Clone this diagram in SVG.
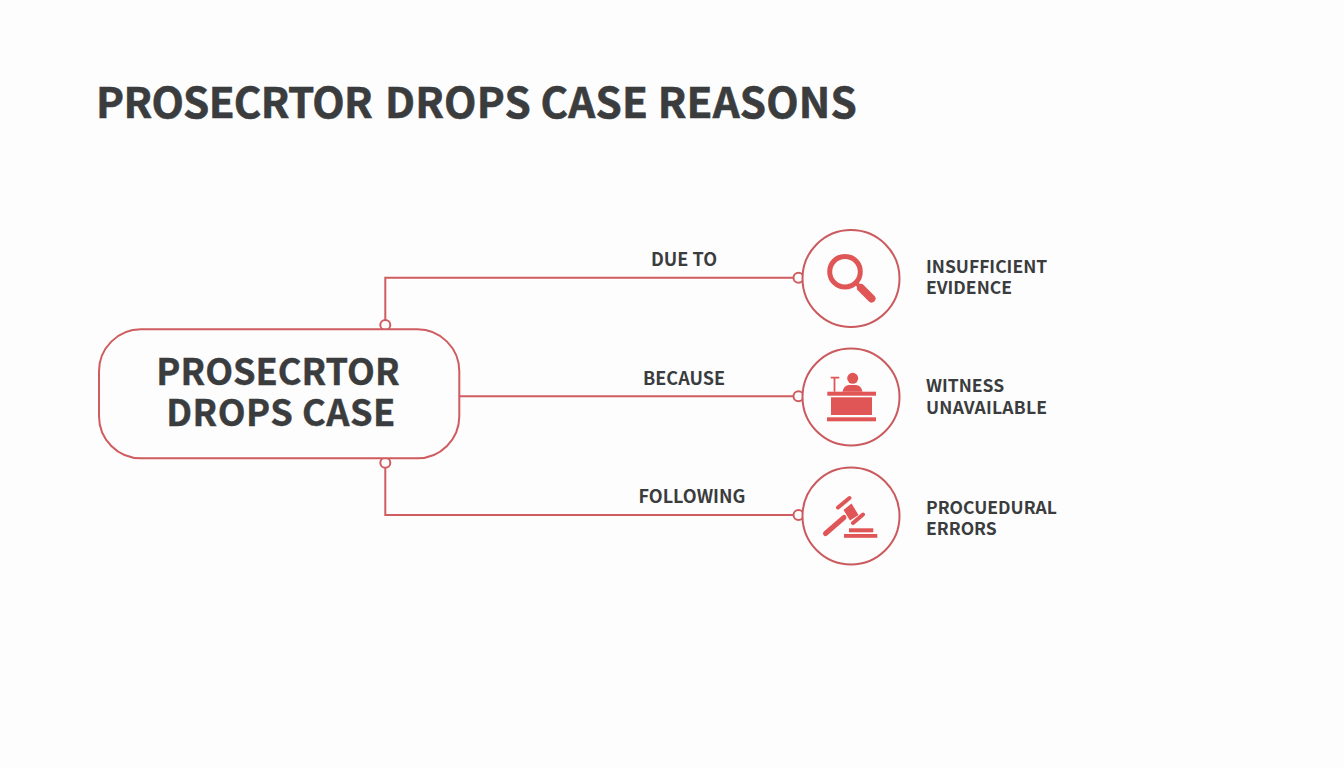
<svg xmlns="http://www.w3.org/2000/svg" width="1344" height="768" viewBox="0 0 1344 768">
<style>
text{font-family:"Noto Sans CJK SC","Noto Sans","Liberation Sans",sans-serif;fill:#3a3c3d}
.t{font-size:42.100px;font-weight:700;stroke:#3a3c3d;stroke-width:.6px}
.m{font-size:36.200px;font-weight:700;text-anchor:middle;stroke:#3a3c3d;stroke-width:.4px}
.l{font-size:18px;font-weight:700;text-anchor:middle}
.s{font-size:17.500px;font-weight:700}
.ln{fill:none;stroke:#cf5c5f;stroke-width:2}
.dot{fill:#fdfdfd;stroke:#cf5c5f;stroke-width:2}
.ic{fill:#e05555}
.ring{fill:#fdfdfd;stroke:#cb5a5e;stroke-width:2}
</style>
<rect width="1344" height="768" fill="#fdfdfd"/>
<text id="title" class="t" x="96" y="118"><tspan letter-spacing="-0.7">PROSECRTOR</tspan> <tspan x="385" letter-spacing="0.17">DROPS CASE REASONS</tspan></text>
<g id="connectors">
<path class="ln" d="M385.300 325V277.800H798"/>
<path class="ln" d="M459 396.300H798"/>
<path class="ln" d="M385.300 463V515H798"/>
<circle class="dot" cx="385.300" cy="325" r="5"/>
<circle class="dot" cx="385.300" cy="462.700" r="5"/>
<circle class="dot" cx="798.500" cy="277.800" r="5"/>
<circle class="dot" cx="798.500" cy="396.300" r="5"/>
<circle class="dot" cx="798.500" cy="515" r="5"/>
<text class="l" x="684" y="266">DUE TO</text>
<text class="l" x="684" y="385">BECAUSE</text>
<text class="l" x="692" y="503">FOLLOWING</text>
</g>
<g id="main">
<rect x="99" y="329.300" width="360.300" height="129" rx="42" fill="#fdfdfd" stroke="#cf5c5f" stroke-width="2"/>
<text class="m" x="278" y="385">PROSECRTOR</text>
<text class="m" x="281" y="426" letter-spacing="0.5">DROPS CASE</text>
</g>
<g id="evidence">
<circle class="ring" cx="851" cy="278.500" r="48.500"/>
<circle cx="845" cy="271.700" r="15.300" fill="none" stroke="#e05555" stroke-width="5"/>
<path d="M856 283L861 288" stroke="#e05555" stroke-width="4"/>
<path d="M861 288L871.500 298.500" stroke="#e05555" stroke-width="8" stroke-linecap="round"/>
<text class="s" x="926" y="272.500">INSUFFICIENT</text>
<text class="s" x="926" y="294">EVIDENCE</text>
</g>
<g id="witness">
<circle class="ring" cx="851" cy="397" r="48.500"/>
<circle class="ic" cx="852.700" cy="378.300" r="5.500"/>
<path class="ic" d="M842.500 391.700Q844 385 849 385H856Q861 385 862.500 391.700Z"/>
<rect class="ic" x="827.300" y="391.700" width="48.700" height="4"/>
<rect class="ic" x="831" y="397.300" width="41" height="17.700"/>
<rect class="ic" x="827" y="417.300" width="49" height="4"/>
<path d="M830.700 377.700H839.300M834.500 377.700V391.700" stroke="#e05555" stroke-width="1.800" fill="none"/>
<text class="s" x="926" y="392">WITNESS</text>
<text class="s" x="926" y="413.500" letter-spacing="0.25">UNAVAILABLE</text>
</g>
<g id="errors">
<circle class="ring" cx="851" cy="516" r="48.500"/>
<path d="M844 517.500L825.500 533.500" stroke="#e05555" stroke-width="5" stroke-linecap="round"/>
<path class="ic" d="M843.500 510L851.500 503.500L858.500 515L850 520.500Z"/>
<path d="M838 507.500L849.500 498M853 523L863 514.500" stroke="#e05555" stroke-width="4" stroke-linecap="round"/>
<rect class="ic" x="849" y="528.300" width="24.300" height="4"/>
<rect class="ic" x="844" y="534" width="33.300" height="3.800"/>
<text class="s" x="926" y="513.500">PROCUEDURAL</text>
<text class="s" x="926" y="534.500">ERRORS</text>
</g>
</svg>
